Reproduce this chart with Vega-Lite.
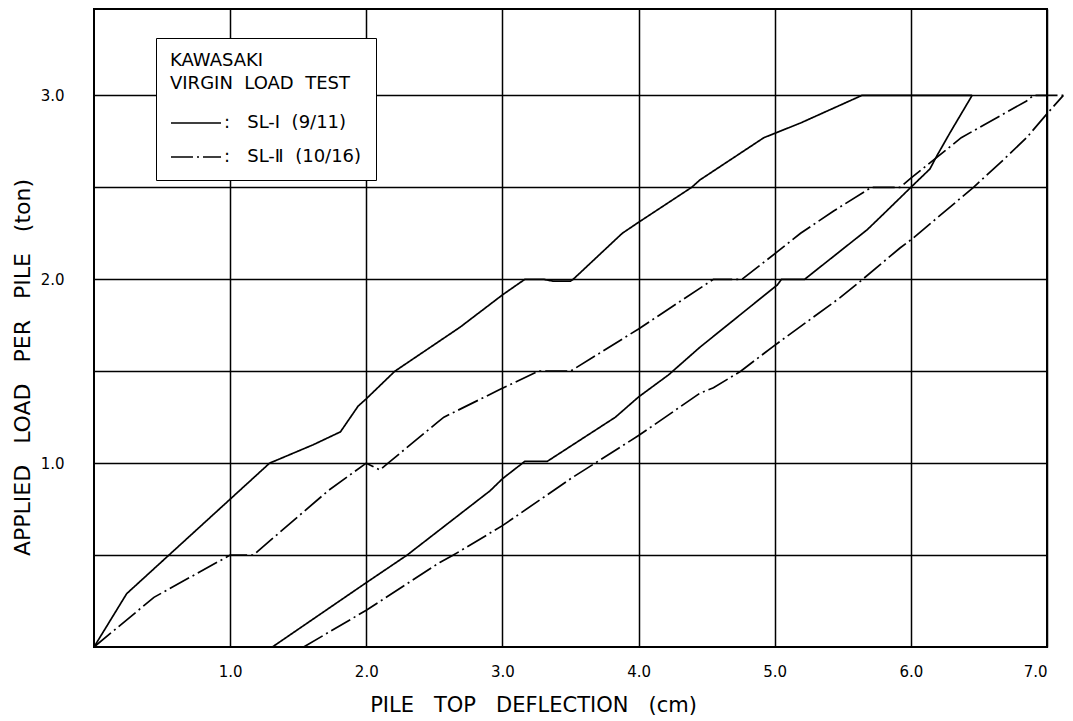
{
  "$schema": "https://vega.github.io/schema/vega-lite/v6.json",
  "width": 953,
  "height": 638,
  "autosize": {"type": "none"},
  "padding": {"left": 94, "top": 9, "right": 26, "bottom": 74},
  "background": "white",
  "config": {
    "font": "DejaVu Sans",
    "view": {"stroke": "black", "strokeWidth": 2}
  },
  "data": {
    "values": [
      {"series": "SL-Ⅰ (9/11)", "curve": "SL-I virgin", "x": 0, "y": 0},
      {"series": "SL-Ⅰ (9/11)", "curve": "SL-I virgin", "x": 0.24, "y": 0.29},
      {"series": "SL-Ⅰ (9/11)", "curve": "SL-I virgin", "x": 1.29, "y": 1.0},
      {"series": "SL-Ⅰ (9/11)", "curve": "SL-I virgin", "x": 1.61, "y": 1.1},
      {"series": "SL-Ⅰ (9/11)", "curve": "SL-I virgin", "x": 1.81, "y": 1.17},
      {"series": "SL-Ⅰ (9/11)", "curve": "SL-I virgin", "x": 1.94, "y": 1.31},
      {"series": "SL-Ⅰ (9/11)", "curve": "SL-I virgin", "x": 2.0, "y": 1.35},
      {"series": "SL-Ⅰ (9/11)", "curve": "SL-I virgin", "x": 2.21, "y": 1.5},
      {"series": "SL-Ⅰ (9/11)", "curve": "SL-I virgin", "x": 2.69, "y": 1.74},
      {"series": "SL-Ⅰ (9/11)", "curve": "SL-I virgin", "x": 3.0, "y": 1.915},
      {"series": "SL-Ⅰ (9/11)", "curve": "SL-I virgin", "x": 3.165, "y": 2.0},
      {"series": "SL-Ⅰ (9/11)", "curve": "SL-I virgin", "x": 3.3, "y": 2.0},
      {"series": "SL-Ⅰ (9/11)", "curve": "SL-I virgin", "x": 3.37, "y": 1.99},
      {"series": "SL-Ⅰ (9/11)", "curve": "SL-I virgin", "x": 3.5, "y": 1.99},
      {"series": "SL-Ⅰ (9/11)", "curve": "SL-I virgin", "x": 3.52, "y": 2.0},
      {"series": "SL-Ⅰ (9/11)", "curve": "SL-I virgin", "x": 3.88, "y": 2.25},
      {"series": "SL-Ⅰ (9/11)", "curve": "SL-I virgin", "x": 4.0, "y": 2.31},
      {"series": "SL-Ⅰ (9/11)", "curve": "SL-I virgin", "x": 4.39, "y": 2.5},
      {"series": "SL-Ⅰ (9/11)", "curve": "SL-I virgin", "x": 4.45, "y": 2.54},
      {"series": "SL-Ⅰ (9/11)", "curve": "SL-I virgin", "x": 4.92, "y": 2.77},
      {"series": "SL-Ⅰ (9/11)", "curve": "SL-I virgin", "x": 5.19, "y": 2.85},
      {"series": "SL-Ⅰ (9/11)", "curve": "SL-I virgin", "x": 5.64, "y": 3.0},
      {"series": "SL-Ⅰ (9/11)", "curve": "SL-I virgin", "x": 6.45, "y": 3.0},

      {"series": "SL-Ⅰ (9/11)", "curve": "SL-I reload", "x": 1.31, "y": 0},
      {"series": "SL-Ⅰ (9/11)", "curve": "SL-I reload", "x": 2.0, "y": 0.35},
      {"series": "SL-Ⅰ (9/11)", "curve": "SL-I reload", "x": 2.3, "y": 0.5},
      {"series": "SL-Ⅰ (9/11)", "curve": "SL-I reload", "x": 2.91, "y": 0.85},
      {"series": "SL-Ⅰ (9/11)", "curve": "SL-I reload", "x": 3.0, "y": 0.915},
      {"series": "SL-Ⅰ (9/11)", "curve": "SL-I reload", "x": 3.165, "y": 1.01},
      {"series": "SL-Ⅰ (9/11)", "curve": "SL-I reload", "x": 3.33, "y": 1.01},
      {"series": "SL-Ⅰ (9/11)", "curve": "SL-I reload", "x": 3.83, "y": 1.25},
      {"series": "SL-Ⅰ (9/11)", "curve": "SL-I reload", "x": 4.0, "y": 1.36},
      {"series": "SL-Ⅰ (9/11)", "curve": "SL-I reload", "x": 4.22, "y": 1.48},
      {"series": "SL-Ⅰ (9/11)", "curve": "SL-I reload", "x": 4.45, "y": 1.63},
      {"series": "SL-Ⅰ (9/11)", "curve": "SL-I reload", "x": 5.02, "y": 1.97},
      {"series": "SL-Ⅰ (9/11)", "curve": "SL-I reload", "x": 5.05, "y": 2.0},
      {"series": "SL-Ⅰ (9/11)", "curve": "SL-I reload", "x": 5.22, "y": 2.0},
      {"series": "SL-Ⅰ (9/11)", "curve": "SL-I reload", "x": 5.68, "y": 2.27},
      {"series": "SL-Ⅰ (9/11)", "curve": "SL-I reload", "x": 5.82, "y": 2.37},
      {"series": "SL-Ⅰ (9/11)", "curve": "SL-I reload", "x": 6.0, "y": 2.5},
      {"series": "SL-Ⅰ (9/11)", "curve": "SL-I reload", "x": 6.14, "y": 2.6},
      {"series": "SL-Ⅰ (9/11)", "curve": "SL-I reload", "x": 6.19, "y": 2.67},
      {"series": "SL-Ⅰ (9/11)", "curve": "SL-I reload", "x": 6.29, "y": 2.8},
      {"series": "SL-Ⅰ (9/11)", "curve": "SL-I reload", "x": 6.45, "y": 3.0},

      {"series": "SL-Ⅱ (10/16)", "curve": "SL-II virgin", "x": 0, "y": 0},
      {"series": "SL-Ⅱ (10/16)", "curve": "SL-II virgin", "x": 0.44, "y": 0.27},
      {"series": "SL-Ⅱ (10/16)", "curve": "SL-II virgin", "x": 1.0, "y": 0.5},
      {"series": "SL-Ⅱ (10/16)", "curve": "SL-II virgin", "x": 1.17, "y": 0.5},
      {"series": "SL-Ⅱ (10/16)", "curve": "SL-II virgin", "x": 1.72, "y": 0.85},
      {"series": "SL-Ⅱ (10/16)", "curve": "SL-II virgin", "x": 2.0, "y": 1.0},
      {"series": "SL-Ⅱ (10/16)", "curve": "SL-II virgin", "x": 2.1, "y": 0.963},
      {"series": "SL-Ⅱ (10/16)", "curve": "SL-II virgin", "x": 2.16, "y": 1.0},
      {"series": "SL-Ⅱ (10/16)", "curve": "SL-II virgin", "x": 2.52, "y": 1.22},
      {"series": "SL-Ⅱ (10/16)", "curve": "SL-II virgin", "x": 2.57, "y": 1.25},
      {"series": "SL-Ⅱ (10/16)", "curve": "SL-II virgin", "x": 2.98, "y": 1.4},
      {"series": "SL-Ⅱ (10/16)", "curve": "SL-II virgin", "x": 3.265, "y": 1.5},
      {"series": "SL-Ⅱ (10/16)", "curve": "SL-II virgin", "x": 3.5, "y": 1.5},
      {"series": "SL-Ⅱ (10/16)", "curve": "SL-II virgin", "x": 4.0, "y": 1.73},
      {"series": "SL-Ⅱ (10/16)", "curve": "SL-II virgin", "x": 4.55, "y": 2.0},
      {"series": "SL-Ⅱ (10/16)", "curve": "SL-II virgin", "x": 4.76, "y": 2.0},
      {"series": "SL-Ⅱ (10/16)", "curve": "SL-II virgin", "x": 5.02, "y": 2.15},
      {"series": "SL-Ⅱ (10/16)", "curve": "SL-II virgin", "x": 5.19, "y": 2.25},
      {"series": "SL-Ⅱ (10/16)", "curve": "SL-II virgin", "x": 5.43, "y": 2.37},
      {"series": "SL-Ⅱ (10/16)", "curve": "SL-II virgin", "x": 5.71, "y": 2.5},
      {"series": "SL-Ⅱ (10/16)", "curve": "SL-II virgin", "x": 5.92, "y": 2.5},
      {"series": "SL-Ⅱ (10/16)", "curve": "SL-II virgin", "x": 6.0, "y": 2.55},
      {"series": "SL-Ⅱ (10/16)", "curve": "SL-II virgin", "x": 6.37, "y": 2.77},
      {"series": "SL-Ⅱ (10/16)", "curve": "SL-II virgin", "x": 6.85, "y": 2.97},
      {"series": "SL-Ⅱ (10/16)", "curve": "SL-II virgin", "x": 6.9, "y": 3.0},
      {"series": "SL-Ⅱ (10/16)", "curve": "SL-II virgin", "x": 7.12, "y": 3.0},

      {"series": "SL-Ⅱ (10/16)", "curve": "SL-II reload", "x": 1.54, "y": 0},
      {"series": "SL-Ⅱ (10/16)", "curve": "SL-II reload", "x": 2.0, "y": 0.2},
      {"series": "SL-Ⅱ (10/16)", "curve": "SL-II reload", "x": 2.54, "y": 0.46},
      {"series": "SL-Ⅱ (10/16)", "curve": "SL-II reload", "x": 2.64, "y": 0.5},
      {"series": "SL-Ⅱ (10/16)", "curve": "SL-II reload", "x": 3.0, "y": 0.66},
      {"series": "SL-Ⅱ (10/16)", "curve": "SL-II reload", "x": 3.51, "y": 0.92},
      {"series": "SL-Ⅱ (10/16)", "curve": "SL-II reload", "x": 4.0, "y": 1.15},
      {"series": "SL-Ⅱ (10/16)", "curve": "SL-II reload", "x": 4.45, "y": 1.38},
      {"series": "SL-Ⅱ (10/16)", "curve": "SL-II reload", "x": 4.55, "y": 1.41},
      {"series": "SL-Ⅱ (10/16)", "curve": "SL-II reload", "x": 4.75, "y": 1.5},
      {"series": "SL-Ⅱ (10/16)", "curve": "SL-II reload", "x": 4.98, "y": 1.63},
      {"series": "SL-Ⅱ (10/16)", "curve": "SL-II reload", "x": 5.48, "y": 1.9},
      {"series": "SL-Ⅱ (10/16)", "curve": "SL-II reload", "x": 5.63, "y": 1.99},
      {"series": "SL-Ⅱ (10/16)", "curve": "SL-II reload", "x": 5.92, "y": 2.17},
      {"series": "SL-Ⅱ (10/16)", "curve": "SL-II reload", "x": 6.01, "y": 2.22},
      {"series": "SL-Ⅱ (10/16)", "curve": "SL-II reload", "x": 6.46, "y": 2.5},
      {"series": "SL-Ⅱ (10/16)", "curve": "SL-II reload", "x": 6.68, "y": 2.65},
      {"series": "SL-Ⅱ (10/16)", "curve": "SL-II reload", "x": 6.85, "y": 2.77},
      {"series": "SL-Ⅱ (10/16)", "curve": "SL-II reload", "x": 7.0, "y": 2.9},
      {"series": "SL-Ⅱ (10/16)", "curve": "SL-II reload", "x": 7.12, "y": 3.0}
    ]
  },
  "mark": {"type": "line", "color": "black", "strokeWidth": 1.7, "clip": false},
  "encoding": {
    "x": {
      "field": "x",
      "type": "quantitative",
      "scale": {"domain": [0, 7], "nice": false, "zero": false},
      "axis": {
        "values": [1, 2, 3, 4, 5, 6, 7],
        "format": ".1f",
        "grid": true,
        "gridColor": "black",
        "gridWidth": 1.5,
        "gridOpacity": 1,
        "domain": false,
        "ticks": false,
        "labelFontSize": 15,
        "labelColor": "black",
        "labelPadding": 17,
        "title": "PILE\u00a0\u00a0\u00a0TOP\u00a0\u00a0\u00a0DEFLECTION\u00a0\u00a0\u00a0(cm)",
        "titleFontSize": 21,
        "titleFontWeight": "normal",
        "titleColor": "black",
        "titleAlign": "center",
        "titleBaseline": "alphabetic",
        "titleX": 439,
        "titleY": 64
      }
    },
    "y": {
      "field": "y",
      "type": "quantitative",
      "scale": {"domain": [0, 3.47], "nice": false, "zero": false},
      "axis": {
        "values": [0.5, 1, 1.5, 2, 2.5, 3],
        "labelExpr": "datum.value % 1 === 0 ? format(datum.value, '.1f') : ''",
        "grid": true,
        "gridColor": "black",
        "gridWidth": 1.5,
        "gridOpacity": 1,
        "domain": false,
        "ticks": false,
        "labelFontSize": 15,
        "labelColor": "black",
        "labelPadding": 30,
        "title": "APPLIED\u00a0\u00a0\u00a0LOAD\u00a0\u00a0\u00a0PER\u00a0\u00a0\u00a0PILE\u00a0\u00a0\u00a0(ton)",
        "titleFontSize": 22,
        "titleFontWeight": "normal",
        "titleColor": "black",
        "titleAngle": -90,
        "titleAlign": "center",
        "titleBaseline": "middle",
        "titleX": -72,
        "titleY": 358
      }
    },
    "detail": {"field": "curve"},
    "strokeDash": {
      "field": "series",
      "type": "nominal",
      "scale": {
        "domain": ["SL-Ⅰ (9/11)", "SL-Ⅱ (10/16)"],
        "range": [[1, 0], [22, 4, 2, 4]]
      },
      "legend": {
        "orient": "none",
        "legendX": 62,
        "legendY": 29,
        "title": ["KAWASAKI", "VIRGIN\u00a0\u00a0LOAD\u00a0\u00a0TEST"],
        "titleFontSize": 18,
        "titleFontWeight": "normal",
        "titleColor": "black",
        "titleLineHeight": 23,
        "titlePadding": 22,
        "fillColor": "white",
        "strokeColor": "black",
        "padding": 14,
        "symbolType": "stroke",
        "symbolSize": 2500,
        "clipHeight": 16,
        "symbolStrokeWidth": 1.7,
        "symbolStrokeColor": "black",
        "labelFontSize": 18,
        "labelColor": "black",
        "labelOffset": 2,
        "labelLimit": 400,
        "rowPadding": 16,
        "labelExpr": "':\u00a0\u00a0\u00a0' + replace(datum.label, ' ', '\u00a0\u00a0')"
      }
    }
  }
}
